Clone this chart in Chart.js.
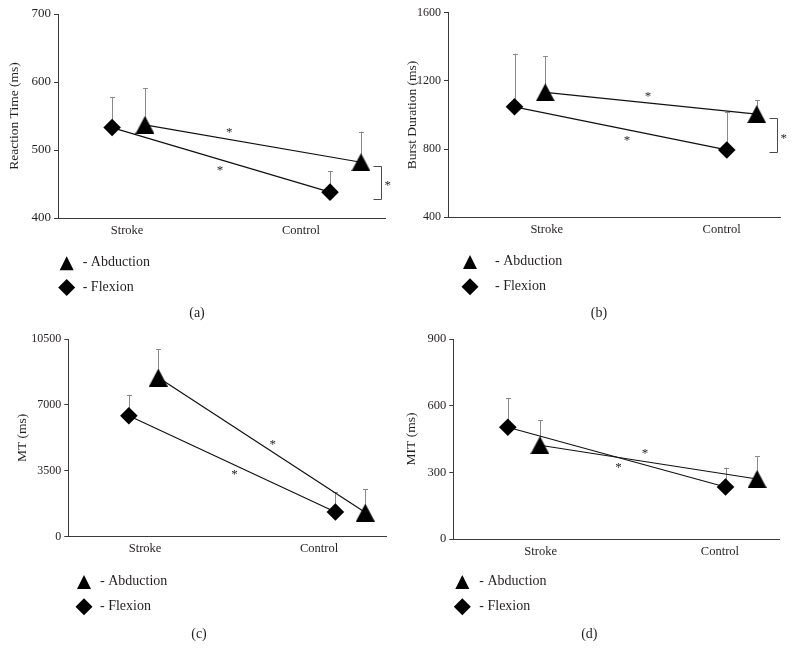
<!DOCTYPE html>
<html><head><meta charset="utf-8">
<script src="https://cdn.jsdelivr.net/npm/chart.js@4/dist/chart.umd.min.js"></script>
<style>
html,body{margin:0;padding:0;background:#fff;}
body{width:796px;height:660px;position:relative;overflow:hidden;}
canvas{position:absolute;}
</style></head><body>
<canvas id="pa" width="400" height="330" style="left:0;top:0"></canvas>
<canvas id="pb" width="396" height="330" style="left:400px;top:0"></canvas>
<canvas id="pc" width="400" height="330" style="left:0;top:330px"></canvas>
<canvas id="pd" width="396" height="330" style="left:400px;top:330px"></canvas>
<script>
// ---------- data ----------
const categories = ['Stroke', 'Control'];
const seriesNames = ['Abduction', 'Flexion'];
const panelLabels = ['(a)', '(b)', '(c)', '(d)'];
const yTitles = ['Reaction Time (ms)', 'Burst Duration (ms)', 'MT (ms)', 'MIT (ms)'];

const rtAbduction = [537, 482];
const rtAbductionErr = [54, 45];
const rtFlexion = [533, 438];
const rtFlexionErr = [45, 31];

const bdAbduction = [1133, 1005];
const bdAbductionErr = [213, 83];
const bdFlexion = [1048, 795];
const bdFlexionErr = [312, 225];

const mtAbduction = [8450, 1280];
const mtAbductionErr = [1520, 1230];
const mtFlexion = [6420, 1310];
const mtFlexionErr = [1120, 1050];

const mitAbduction = [422, 270];
const mitAbductionErr = [112, 103];
const mitFlexion = [503, 234];
const mitFlexionErr = [131, 87];

const rtTicks = [400, 500, 600, 700];
const bdTicks = [400, 800, 1200, 1600];
const mtTicks = [0, 3500, 7000, 10500];
const mitTicks = [0, 300, 600, 900];

// ---------- styling / layout ----------
const FONT = 'Liberation Serif';
const TXT = '#231f20';
const AX = '#3a3a3a';
const X_H = 30;

function makeTriangle(w, h) {
  const c = document.createElement('canvas');
  c.width = w; c.height = h;
  const g = c.getContext('2d');
  g.fillStyle = '#000';
  g.beginPath(); g.moveTo(w / 2, 0); g.lineTo(w, h); g.lineTo(0, h); g.closePath(); g.fill();
  return c;
}
const triImg = makeTriangle(19, 18);

const panels = [
  { id: 'pa', W: 400, H: 330, axisX: 58, top: 14, right: 385, bottom: 218, yFontSize: 13,
    xMin: 0.603, xMax: 2.483, xAbd: [1.103, 2.345], xFlex: [0.914, 2.167],
    abd: rtAbduction, abdErr: rtAbductionErr, flex: rtFlexion, flexErr: rtFlexionErr, ticks: rtTicks,
    title: yTitles[0], titleX: 14, caption: panelLabels[0], capX: 197, capY: 313,
    leg: { mx: 66.7, tri: 263.3, dia: 287.5, tx: 82.7 },
    stars: [{ s: 0, t: 0.39, dy: -10.5 }, { s: 1, t: 0.495, dy: 8 }],
    bracket: { dx: -4, topOff: 3.7, botOff: 6.8 } },
  { id: 'pb', W: 396, H: 330, axisX: 48, top: 12.7, right: 380, bottom: 217.3, yFontSize: 12,
    xMin: 0.436, xMax: 2.333, xAbd: [0.992, 2.2], xFlex: [0.816, 2.029],
    abd: bdAbduction, abdErr: bdAbductionErr, flex: bdFlexion, flexErr: bdFlexionErr, ticks: bdTicks,
    title: yTitles[1], titleX: 12, caption: panelLabels[1], capX: 199, capY: 313,
    leg: { mx: 70, tri: 262, dia: 286.7, tx: 95 },
    stars: [{ s: 0, t: 0.486, dy: -10 }, { s: 1, t: 0.53, dy: 7.5 }],
    bracket: { dx: -3.3, topOff: 4.3, botOff: 2.5 } },
  { id: 'pc', W: 400, H: 330, axisX: 68.3, top: 6, right: 386.7, bottom: 206.7, yFontSize: 12,
    xMin: 0.559, xMax: 2.389, xAbd: [1.076, 2.266], xFlex: [0.907, 2.094],
    abd: mtAbduction, abdErr: mtAbductionErr, flex: mtFlexion, flexErr: mtFlexionErr, ticks: mtTicks,
    title: yTitles[2], titleX: 22.7, caption: panelLabels[2], capX: 199, capY: 304.3,
    leg: { mx: 84, tri: 252, dia: 276.7, tx: 100 },
    stars: [{ s: 0, t: 0.553, dy: -10.9 }, { s: 1, t: 0.511, dy: 6.7 }],
    bracket: null },
  { id: 'pd', W: 396, H: 330, axisX: 53.3, top: 8.3, right: 379.3, bottom: 209, yFontSize: 12.5,
    xMin: 0.513, xMax: 2.331, xAbd: [0.996, 2.207], xFlex: [0.817, 2.031],
    abd: mitAbduction, abdErr: mitAbductionErr, flex: mitFlexion, flexErr: mitFlexionErr, ticks: mitTicks,
    title: yTitles[3], titleX: 11.7, caption: panelLabels[3], capX: 189.3, capY: 304.3,
    leg: { mx: 62.3, tri: 252, dia: 276.7, tx: 79.3 },
    stars: [{ s: 0, t: 0.484, dy: -11 }, { s: 1, t: 0.508, dy: 6.8 }],
    bracket: null }
];

// error bars drawn beneath markers
const errorBarPlugin = {
  id: 'errbars',
  beforeDatasetsDraw(chart) {
    const ctx = chart.ctx, ys = chart.scales.y;
    ctx.save();
    ctx.strokeStyle = '#8a8a8a';
    ctx.lineWidth = 1;
    chart.data.datasets.forEach((ds, i) => {
      const meta = chart.getDatasetMeta(i);
      ds.data.forEach((p, j) => {
        const el = meta.data[j];
        const x = Math.round(el.x) + 0.5;
        const y0 = ys.getPixelForValue(p.y);
        const y1 = ys.getPixelForValue(p.y + ds.errors[j]);
        ctx.beginPath();
        ctx.moveTo(x, y0); ctx.lineTo(x, y1);
        ctx.moveTo(x - 2.5, Math.round(y1) + 0.5); ctx.lineTo(x + 2.5, Math.round(y1) + 0.5);
        ctx.stroke();
      });
    });
    ctx.restore();
  }
};

// significance marks, legend and caption
const annotPlugin = {
  id: 'annot',
  afterDraw(chart) {
    const cfg = chart.config.options.plugins.annot;
    const ctx = chart.ctx;
    ctx.save();
    ctx.fillStyle = TXT;
    ctx.font = '13px "' + FONT + '"';
    ctx.textAlign = 'center';
    ctx.textBaseline = 'alphabetic';
    cfg.stars.forEach(st => {
      const meta = chart.getDatasetMeta(st.s);
      const a = meta.data[0], b = meta.data[1];
      const x = a.x + (b.x - a.x) * st.t;
      const y = a.y + (b.y - a.y) * st.t + st.dy;
      ctx.fillText('*', x, y + 6.8);
    });
    if (cfg.bracket) {
      const ya = chart.getDatasetMeta(0).data[1].y + cfg.bracket.topOff;
      const yf = chart.getDatasetMeta(1).data[1].y + cfg.bracket.botOff;
      const bx = Math.round(chart.chartArea.right + cfg.bracket.dx) + 0.5;
      ctx.strokeStyle = '#4a4a4a';
      ctx.lineWidth = 1;
      ctx.beginPath();
      ctx.moveTo(bx - 8, Math.round(ya) + 0.5); ctx.lineTo(bx, Math.round(ya) + 0.5);
      ctx.lineTo(bx, Math.round(yf) + 0.5); ctx.lineTo(bx - 8, Math.round(yf) + 0.5);
      ctx.stroke();
      ctx.textAlign = 'left';
      ctx.fillText('*', bx + 3, (ya + yf) / 2 + 6.8);
    }
    const L = cfg.leg;
    ctx.fillStyle = '#000';
    ctx.beginPath();
    ctx.moveTo(L.mx, L.tri - 7); ctx.lineTo(L.mx + 7, L.tri + 7); ctx.lineTo(L.mx - 7, L.tri + 7);
    ctx.closePath(); ctx.fill();
    ctx.beginPath();
    ctx.moveTo(L.mx, L.dia - 8.5); ctx.lineTo(L.mx + 8.5, L.dia); ctx.lineTo(L.mx, L.dia + 8.5); ctx.lineTo(L.mx - 8.5, L.dia);
    ctx.closePath(); ctx.fill();
    ctx.fillStyle = TXT;
    ctx.font = '14px "' + FONT + '"';
    ctx.textAlign = 'left';
    ctx.fillText('- ' + chart.data.datasets[0].label, L.tx, L.tri + 2.6);
    ctx.fillText('- ' + chart.data.datasets[1].label, L.tx, L.dia + 3.2);
    ctx.textAlign = 'center';
    ctx.textBaseline = 'middle';
    ctx.fillText(cfg.caption, cfg.capX, cfg.capY);
    ctx.restore();
  }
};

function makePanel(cfg) {
  const lineStyle = { showLine: true, borderColor: '#111', borderWidth: 1.2, backgroundColor: '#000',
    pointBackgroundColor: '#000', pointBorderColor: '#000', pointBorderWidth: 0 };
  const datasets = [
    Object.assign({ label: seriesNames[0], errors: cfg.abdErr,
      data: cfg.abd.map((v, i) => ({ x: cfg.xAbd[i], y: v })),
      pointStyle: triImg, pointRadius: 9 }, lineStyle),
    Object.assign({ label: seriesNames[1], errors: cfg.flexErr,
      data: cfg.flex.map((v, i) => ({ x: cfg.xFlex[i], y: v })),
      pointStyle: 'rectRot', pointRadius: 8.8 }, lineStyle)
  ];
  const xFont = { family: FONT, size: 12.5 };
  const yFont = { family: FONT, size: cfg.yFontSize };
  const titleFont = { family: FONT, size: 13.5, lineHeight: 1.2 };
  new Chart(document.getElementById(cfg.id), {
    type: 'scatter',
    data: { datasets },
    options: {
      responsive: false, animation: false, events: [],
      layout: { padding: { left: 0, top: cfg.top, right: cfg.W - cfg.right, bottom: cfg.H - cfg.bottom - X_H } },
      plugins: {
        legend: { display: false }, tooltip: { enabled: false },
        annot: { stars: cfg.stars, bracket: cfg.bracket, leg: cfg.leg, caption: cfg.caption, capX: cfg.capX, capY: cfg.capY }
      },
      scales: {
        x: {
          type: 'linear', min: cfg.xMin, max: cfg.xMax,
          afterBuildTicks: s => { s.ticks = categories.map((c, i) => ({ value: i + 1 })); },
          afterFit: s => { s.height = X_H; s.paddingLeft = 0; s.paddingRight = 0; },
          ticks: { callback: v => categories[Math.round(v) - 1], font: xFont, color: TXT, padding: 5, maxRotation: 0, autoSkip: false },
          grid: { display: true, drawOnChartArea: false, drawTicks: false },
          border: { display: true, color: AX, width: 1 }
        },
        y: {
          type: 'linear', min: cfg.ticks[0], max: cfg.ticks[cfg.ticks.length - 1],
          afterBuildTicks: s => { s.ticks = cfg.ticks.map(v => ({ value: v })); },
          afterFit: s => { s.width = cfg.axisX; s.paddingTop = 0; s.paddingBottom = 0; },
          ticks: { callback: v => String(v), font: yFont, color: TXT, padding: 3 },
          grid: { drawOnChartArea: false, drawTicks: true, tickLength: 4, color: AX },
          border: { display: true, color: AX, width: 1 },
          title: { display: true, text: cfg.title, font: titleFont, color: TXT,
            padding: { top: cfg.titleX - 8.1, bottom: 0 } }
        }
      }
    },
    plugins: [errorBarPlugin, annotPlugin]
  });
}
panels.forEach(makePanel);
</script>
</body></html>
